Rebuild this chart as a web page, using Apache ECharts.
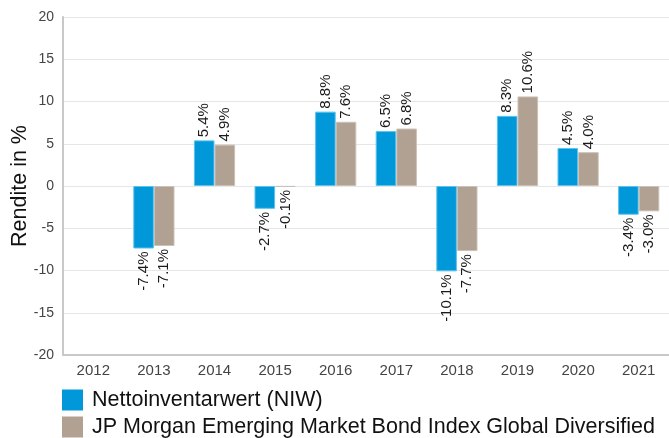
<!DOCTYPE html>
<html><head><meta charset="utf-8">
<script src="https://cdn.jsdelivr.net/npm/echarts@6/dist/echarts.min.js"></script>
<style>html,body{margin:0;padding:0;background:#fff}#c{width:669px;height:438px}</style>
</head><body><div id="c"></div>
<script>
const categories = ['2012','2013','2014','2015','2016','2017','2018','2019','2020','2021'];
const niw = [null, -7.4, 5.4, -2.7, 8.8, 6.5, -10.1, 8.3, 4.5, -3.4];
const jpm = [null, -7.1, 4.9, -0.1, 7.6, 6.8, -7.7, 10.6, 4.0, -3.0];
const seriesNames = ['Nettoinventarwert (NIW)', 'JP Morgan Emerging Market Bond Index Global Diversified'];
const yTicks = {min: -20, max: 20, interval: 5};

const FONT = "'Liberation Sans', Arial, sans-serif";
function toData(arr) {
  return arr.map(v => {
    if (v === null) return '-';
    const neg = v < 0;
    return {
      value: v,
      label: {
        show: true,
        position: neg ? 'bottom' : 'top',
        rotate: 90,
        align: neg ? 'right' : 'left',
        verticalAlign: 'middle',
        distance: 3,
        formatter: p => p.value.toFixed(1) + '%',
        color: '#1a1a1a',
        fontSize: 15,
        fontFamily: FONT
      }
    };
  });
}
const chart = echarts.init(document.getElementById('c'), null, {renderer: 'canvas'});
chart.setOption({
  animation: false,
  backgroundColor: '#fff',
  grid: {left: 63, right: 0, top: 17, bottom: 83, containLabel: false, outerBoundsMode: 'none'},
  legend: {
    orient: 'vertical', left: 62, top: 389, height: 80, padding: 0,
    itemWidth: 21, itemHeight: 21, itemGap: 5,
    icon: 'rect',
    itemStyle: {borderWidth: 0},
    textStyle: {fontSize: 21.5, lineHeight: 21, color: '#111', fontFamily: FONT, padding: [0,0,0,4]},
    data: seriesNames
  },
  xAxis: {
    type: 'category', data: categories,
    axisLine: {onZero: false, lineStyle: {color: '#c8c8c8', width: 2}},
    axisTick: {show: false},
    axisLabel: {color: '#444', fontSize: 15, fontFamily: FONT, margin: 8}
  },
  yAxis: {
    type: 'value', min: yTicks.min, max: yTicks.max, interval: yTicks.interval,
    name: 'Rendite in %', nameLocation: 'middle', nameGap: 32, nameMoveOverlap: false,
    nameTextStyle: {fontSize: 21.5, color: '#111', fontFamily: FONT},
    axisLine: {show: true, lineStyle: {color: '#c8c8c8', width: 2}},
    axisTick: {show: false},
    axisLabel: {color: '#444', fontSize: 14, fontFamily: FONT, margin: 9},
    splitLine: {lineStyle: {color: '#e6e6e6', width: 1}}
  },
  series: [
    {name: seriesNames[0], type: 'bar', data: toData(niw), barWidth: '34%', barGap: '0%',
     itemStyle: {color: '#0098D8', borderColor: '#5cc3ee', borderWidth: 1}},
    {name: seriesNames[1], type: 'bar', data: toData(jpm), barWidth: '34%', barGap: '0%',
     itemStyle: {color: '#B0A192', borderColor: '#cbc1b6', borderWidth: 1}}
  ]
});
</script></body></html>
